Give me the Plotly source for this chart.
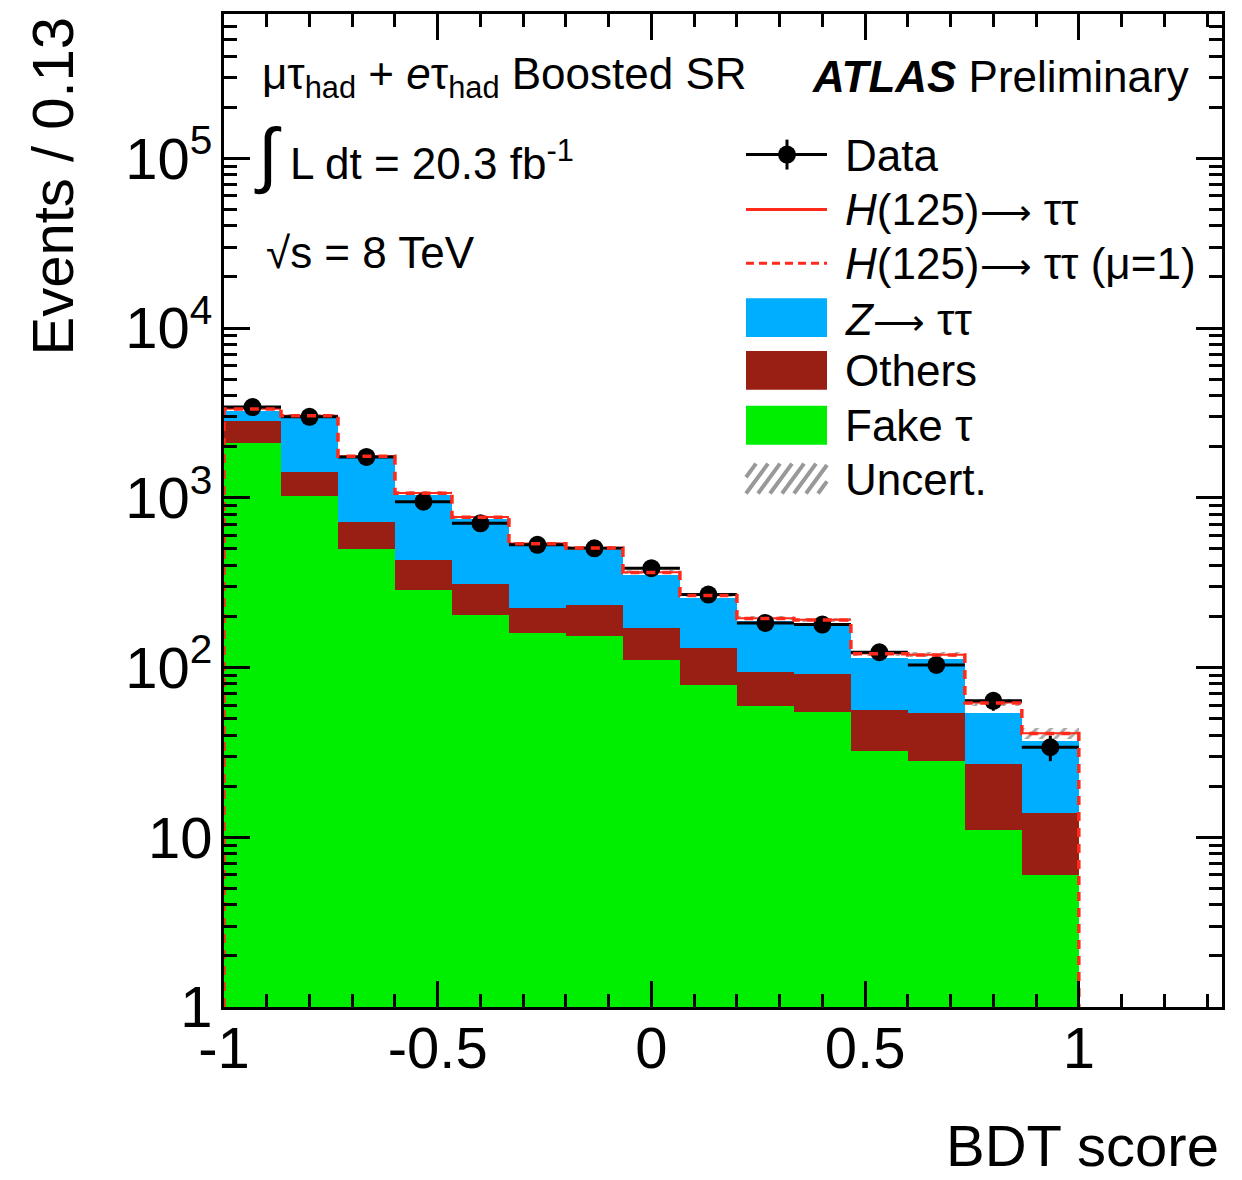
import numpy as np
import plotly.graph_objects as go

# ---------------- data ----------------
bin_edges = [-1 + i * 2 / 15 for i in range(16)]
fake_tau = [2110, 1027, 500, 288, 203, 159, 153, 110, 79, 59, 55, 32.4, 28, 11, 6.0]
others = [708, 393, 223, 141, 109, 65, 80, 60, 52, 35, 36, 23.6, 25.6, 16, 7.9]
z_tautau = [410, 1566, 995, 609, 438, 299, 260, 182, 126, 93, 92, 58, 58.4, 27.3, 23.1]
higgs = [120, 60, 40, 30, 20, 15, 15, 12, 10, 8, 8, 7, 7, 8, 4]
higgs_mu1 = [110, 55, 36, 27, 18, 13, 13, 11, 9, 7.5, 7.5, 6.5, 6.5, 7.5, 3.8]
uncert = [70, 60, 35, 22, 16, 12, 11, 9, 7, 5, 5, 4, 4, 3, 3]
data = [3420, 3000, 1740, 948, 707, 528, 504, 385, 269, 183, 179, 123, 103.5, 63.6, 33.9]

y_tickvals = [1, 10, 100, 1000, 10000, 100000]
y_ticktext = ["1", "10", "10<sup>2</sup>", "10<sup>3</sup>", "10<sup>4</sup>", "10<sup>5</sup>"]
x_tickvals = [-1, -0.5, 0, 0.5, 1]
x_ticktext = ["-1", "-0.5", "0", "0.5", "1"]

# ---------------- derived ----------------
edges = np.array(bin_edges)
centers = (edges[:-1] + edges[1:]) / 2
width = edges[1] - edges[0]
s_fake = np.array(fake_tau)
s_oth = s_fake + np.array(others)
s_z = s_oth + np.array(z_tautau)
s_h = s_z + np.array(higgs)
s_hmu1 = s_z + np.array(higgs_mu1)
unc = np.array(uncert)

FONT = "Liberation Sans, Arial, Helvetica, sans-serif"
GREEN = "#00ef00"
BLUE = "#00aeff"
BROWN = "#991e14"
RED = "#ff2a1a"

# page offset of the plotly div (browser body margin)
OFF = 8
FIG_W, FIG_H = 1242 - OFF, 1180 - OFF
# plot-area pixel geometry, in page pixels
L, R, T, B = 224, 1222, 11, 1007
W, H = R - L, B - T


def px(x):
    return (x - L) / W


def py(y):
    return (B - y) / H


fig = go.Figure()


def add_bar(vals, color, name):
    fig.add_trace(go.Bar(x=centers, y=vals, width=width, marker=dict(color=color, line=dict(width=0)),
                         name=name, showlegend=False))


add_bar(s_h, "white", "H(125)")
add_bar(s_z, BLUE, "Z->tautau")
add_bar(s_oth, BROWN, "Others")
add_bar(s_fake, GREEN, "Fake tau")

# uncertainty band
fig.add_trace(go.Bar(x=centers, y=2 * unc, base=s_h - unc, width=width,
                     marker=dict(color="rgba(0,0,0,0)", line=dict(width=0),
                                 pattern=dict(shape="/", fgcolor="#555555", bgcolor="rgba(0,0,0,0)",
                                              size=10, solidity=0.3)),
                     showlegend=False))

# H(125) fitted: horizontal segments on top of the white band
hx, hy = [], []
for i in range(len(centers)):
    hx += [edges[i], edges[i + 1], None]
    hy += [s_h[i], s_h[i], None]
fig.add_trace(go.Scatter(x=hx, y=hy, mode="lines", line=dict(color=RED, width=2), showlegend=False))

# data
fig.add_trace(go.Scatter(x=centers, y=data, mode="markers",
                         marker=dict(color="black", size=18),
                         error_x=dict(type="data", array=[width / 2] * len(data), thickness=3, width=0, color="black"),
                         error_y=dict(type="data", array=list(np.sqrt(data)), thickness=3, width=0, color="black"),
                         showlegend=False))

# H(125) mu=1 dashed step outline (drawn on top, as in the reference)
step_x = [edges[0]] + list(edges[:-1]) + [edges[-1]]
fig.add_trace(go.Scatter(x=step_x, y=[1] + list(s_hmu1) + [1], mode="lines", line_shape="hv",
                         line=dict(color=RED, width=3.5, dash="9px,7px"), showlegend=False))

minor_x = [round(-1 + 0.1 * i, 2) for i in range(24) if round((-1 + 0.1 * i) * 2, 6) % 1 != 0]
minor_y = [m * 10 ** d for d in range(0, 6) for m in range(2, 10)]

fig.update_layout(
    width=FIG_W, height=FIG_H,
    margin=dict(l=L - OFF, r=FIG_W - (R - OFF), t=T - OFF, b=FIG_H - (B - OFF)),
    paper_bgcolor="white", plot_bgcolor="white",
    barmode="overlay", bargap=0,
    showlegend=False,
    font=dict(family=FONT, color="black"),
    xaxis=dict(range=[-1, 1.335], tickvals=x_tickvals, ticktext=x_ticktext,
               ticks="inside", ticklen=26, tickwidth=2.5, tickcolor="black",
               minor=dict(tickvals=minor_x, ticks="inside", ticklen=13, tickwidth=2.5, tickcolor="black"),
               showline=True, linewidth=3, linecolor="black", mirror="ticks",
               showgrid=False, zeroline=False, tickfont=dict(size=58, family=FONT),
               ticklabelstandoff=-12),
    yaxis=dict(type="log", range=[0, 5.85], tickvals=y_tickvals, ticktext=y_ticktext,
               ticks="inside", ticklen=26, tickwidth=2.5, tickcolor="black",
               minor=dict(tickvals=minor_y, ticks="inside", ticklen=13, tickwidth=2.5, tickcolor="black"),
               showline=True, linewidth=3, linecolor="black", mirror="ticks",
               showgrid=False, zeroline=False, tickfont=dict(size=58, family=FONT),
               ticklabelstandoff=-3),
)

ann = []


def text(x, y, s, size, xanchor="left", yanchor="middle", **kw):
    ann.append(dict(x=px(x), y=py(y), xref="paper", yref="paper", text=s, showarrow=False,
                    xanchor=xanchor, yanchor=yanchor, font=dict(size=size, family=FONT, color="black"), **kw))


# axis titles
text(1221, 1146, "BDT score", 58, xanchor="right")
text(52, 12, "Events / 0.13", 58, xanchor="center", yanchor="top", textangle=-90)

# labels
text(260, 74, "μτ<sub>had</sub> + <i>e</i>τ<sub>had</sub> Boosted SR", 44)
text(1191, 74, "<b><i>ATLAS</i></b> Preliminary", 44, xanchor="right")
text(252, 152, "<span style='font-size:72px'>∫</span> L dt = 20.3 fb<sup>-1</sup>", 44)
text(264, 250, "√s = 8 TeV", 44)

# legend
LX0, LX1, TX = 746, 827, 843
shapes = []
fig.add_trace(go.Scatter(x=[px(LX0), px(LX1)], y=[py(152), py(152)], xaxis="x2", yaxis="y2",
                         mode="lines", line=dict(color="black", width=3), showlegend=False))
fig.add_trace(go.Scatter(x=[px(787)], y=[py(152)], xaxis="x2", yaxis="y2", mode="markers",
                         marker=dict(color="black", size=18),
                         error_y=dict(type="constant", value=py(137) - py(152), thickness=3, width=0, color="black"),
                         showlegend=False))
fig.add_trace(go.Scatter(x=[px(LX0), px(LX1)], y=[py(207), py(207)], xaxis="x2", yaxis="y2",
                         mode="lines", line=dict(color=RED, width=3), showlegend=False))
fig.add_trace(go.Scatter(x=[px(LX0), px(LX1)], y=[py(261), py(261)], xaxis="x2", yaxis="y2",
                         mode="lines", line=dict(color=RED, width=3, dash="8px,5px"), showlegend=False))
fig.update_layout(
    xaxis2=dict(overlaying="x", range=[0, 1], visible=False, fixedrange=True),
    yaxis2=dict(overlaying="y", range=[0, 1], visible=False, fixedrange=True),
)

for (y0, y1, col) in [(296, 335, BLUE), (349, 388, BROWN), (404, 443, GREEN)]:
    shapes.append(dict(type="rect", xref="paper", yref="paper", x0=px(LX0), x1=px(LX1), y0=py(y1), y1=py(y0),
                       fillcolor=col, line=dict(width=0)))
# hatched box for uncertainty
hy0, hy1 = 462, 492
DX = 22
for x0 in range(734, 822, 12):
    xa, xb = x0, x0 + DX
    ya, yb = hy1, hy0
    if xb <= LX0 + 2:
        continue
    if xa < LX0:
        ya = hy1 - (LX0 - xa) * (hy1 - hy0) / DX
        xa = LX0
    if xb > LX1:
        yb = hy0 + (xb - LX1) * (hy1 - hy0) / DX
        xb = LX1
    shapes.append(dict(type="line", xref="paper", yref="paper", x0=px(xa), y0=py(ya), x1=px(xb), y1=py(yb),
                       line=dict(color="#999999", width=4)))

ARROW = "<span style='font-size:36px'>⟶</span>"
text(TX, 153, "Data", 44)
text(TX, 207, "<i>H</i>(125)" + ARROW + " ττ", 44)
text(TX, 261, "<i>H</i>(125)" + ARROW + " ττ (μ=1)", 44)
text(TX, 317, "<i>Z</i>" + ARROW + " ττ", 44)
text(TX, 369, "Others", 44)
text(TX, 424, "Fake τ", 44)
text(TX, 478, "Uncert.", 44)

fig.update_layout(annotations=ann, shapes=shapes)
fig.write_html("out.html")
